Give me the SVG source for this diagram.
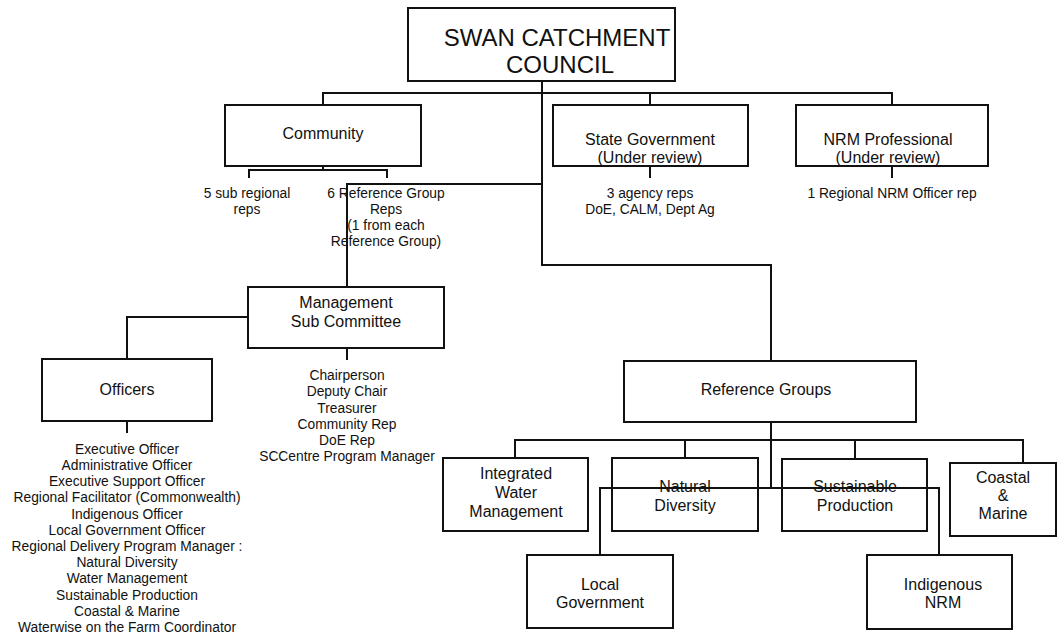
<svg xmlns="http://www.w3.org/2000/svg" width="1057" height="636" viewBox="0 0 1057 636">
<style>
.box{fill:#fff;stroke:#111;stroke-width:2}
.ln{fill:none;stroke:#111;stroke-width:2}
text{font-family:"Liberation Sans",Arial,sans-serif;fill:#111;text-anchor:middle}
.lb{font-size:16px}
.sm{font-size:13.8px}
.tt{font-size:24px}
</style>
<rect width="1057" height="636" fill="#fff"/>
<g id="connectors">
<path class="ln" d="M542,81 V265 H771 V361"/>
<path class="ln" d="M323,105 V93 H892 V105"/>
<path class="ln" d="M650,93 V105"/>
<path class="ln" d="M542,184 H347 V287"/>
<path class="ln" d="M323,166 V170 M249,178 V170 H387 V178"/>
<path class="ln" d="M650,166 V178 M892,166 V178"/>
<path class="ln" d="M248,317 H127 V359"/>
<path class="ln" d="M347,348 V360 M127,421 V433"/>
<path class="ln" d="M771,422 V488"/>
<path class="ln" d="M515,458 V440 H1023 V463 M685,440 V458 M855,440 V459"/>
<path class="ln" d="M600,555 V488 H939 V555"/>
</g>
<g id="council">
<rect class="box" x="408" y="8" width="267" height="73"/>
<text class="tt" x="557" y="46">SWAN CATCHMENT</text>
<text class="tt" x="560" y="73">COUNCIL</text>
</g>
<g id="community">
<rect class="box" x="225" y="105" width="196" height="61"/>
<text class="lb" x="323" y="139">Community</text>
</g>
<g id="community-reps">
<text class="sm" x="247" y="198">5 sub regional</text>
<text class="sm" x="247" y="214">reps</text>
<text class="sm" x="386" y="198">6 Reference Group</text>
<text class="sm" x="386" y="214">Reps</text>
<text class="sm" x="386" y="230">(1 from each</text>
<text class="sm" x="386" y="246">Reference Group)</text>
</g>
<g id="state-government">
<rect class="box" x="553" y="105" width="195" height="61"/>
<text class="lb" x="650" y="145">State Government</text>
<text class="lb" x="650" y="163">(Under review)</text>
<text class="sm" x="650" y="198">3 agency reps</text>
<text class="sm" x="650" y="214">DoE, CALM, Dept Ag</text>
</g>
<g id="nrm-professional">
<rect class="box" x="796" y="105" width="192" height="61"/>
<text class="lb" x="888" y="145">NRM Professional</text>
<text class="lb" x="888" y="163">(Under review)</text>
<text class="sm" x="892" y="198">1 Regional NRM Officer rep</text>
</g>
<g id="management">
<rect class="box" x="248" y="287" width="196" height="61"/>
<text class="lb" x="346" y="308">Management</text>
<text class="lb" x="346" y="327">Sub Committee</text>
<text class="sm" x="347" y="380">Chairperson</text>
<text class="sm" x="347" y="396">Deputy Chair</text>
<text class="sm" x="347" y="413">Treasurer</text>
<text class="sm" x="347" y="429">Community Rep</text>
<text class="sm" x="347" y="445">DoE Rep</text>
<text class="sm" x="347" y="461">SCCentre Program Manager</text>
</g>
<g id="officers">
<rect class="box" x="42" y="359" width="170" height="62"/>
<text class="lb" x="127" y="395">Officers</text>
<text class="sm" x="127" y="454">Executive Officer</text>
<text class="sm" x="127" y="470">Administrative Officer</text>
<text class="sm" x="127" y="486">Executive Support Officer</text>
<text class="sm" x="127" y="502">Regional Facilitator (Commonwealth)</text>
<text class="sm" x="127" y="519">Indigenous Officer</text>
<text class="sm" x="127" y="535">Local Government Officer</text>
<text class="sm" x="127" y="551">Regional Delivery Program Manager :</text>
<text class="sm" x="127" y="567">Natural Diversity</text>
<text class="sm" x="127" y="583">Water Management</text>
<text class="sm" x="127" y="600">Sustainable Production</text>
<text class="sm" x="127" y="616">Coastal &amp; Marine</text>
<text class="sm" x="127" y="632">Waterwise on the Farm Coordinator</text>
</g>
<g id="reference-groups">
<rect class="box" x="624" y="361" width="292" height="61"/>
<text class="lb" x="766" y="395">Reference Groups</text>
</g>
<g id="integrated-water">
<rect class="box" x="443" y="458" width="145" height="73"/>
<text class="lb" x="516" y="479">Integrated</text>
<text class="lb" x="516" y="498">Water</text>
<text class="lb" x="516" y="517">Management</text>
</g>
<g id="natural-diversity">
<rect class="box" x="612" y="458" width="146" height="73"/>
<text class="lb" x="685" y="492">Natural</text>
<text class="lb" x="685" y="511">Diversity</text>
</g>
<g id="sustainable-production">
<rect class="box" x="782" y="459" width="145" height="72"/>
<text class="lb" x="855" y="492">Sustainable</text>
<text class="lb" x="855" y="511">Production</text>
</g>
<g id="coastal-marine">
<rect class="box" x="950" y="463" width="106" height="73"/>
<text class="lb" x="1003" y="483">Coastal</text>
<text class="lb" x="1003" y="501">&amp;</text>
<text class="lb" x="1003" y="519">Marine</text>
</g>
<g id="local-government">
<rect class="box" x="527" y="555" width="146" height="73"/>
<text class="lb" x="600" y="590">Local</text>
<text class="lb" x="600" y="608">Government</text>
</g>
<g id="indigenous-nrm">
<rect class="box" x="867" y="555" width="145" height="74"/>
<text class="lb" x="943" y="590">Indigenous</text>
<text class="lb" x="943" y="608">NRM</text>
</g>
<g id="overlay-connectors">
<path class="ln" d="M600,488 H939"/>
<path class="ln" d="M347,184 V287"/>
</g>
</svg>
